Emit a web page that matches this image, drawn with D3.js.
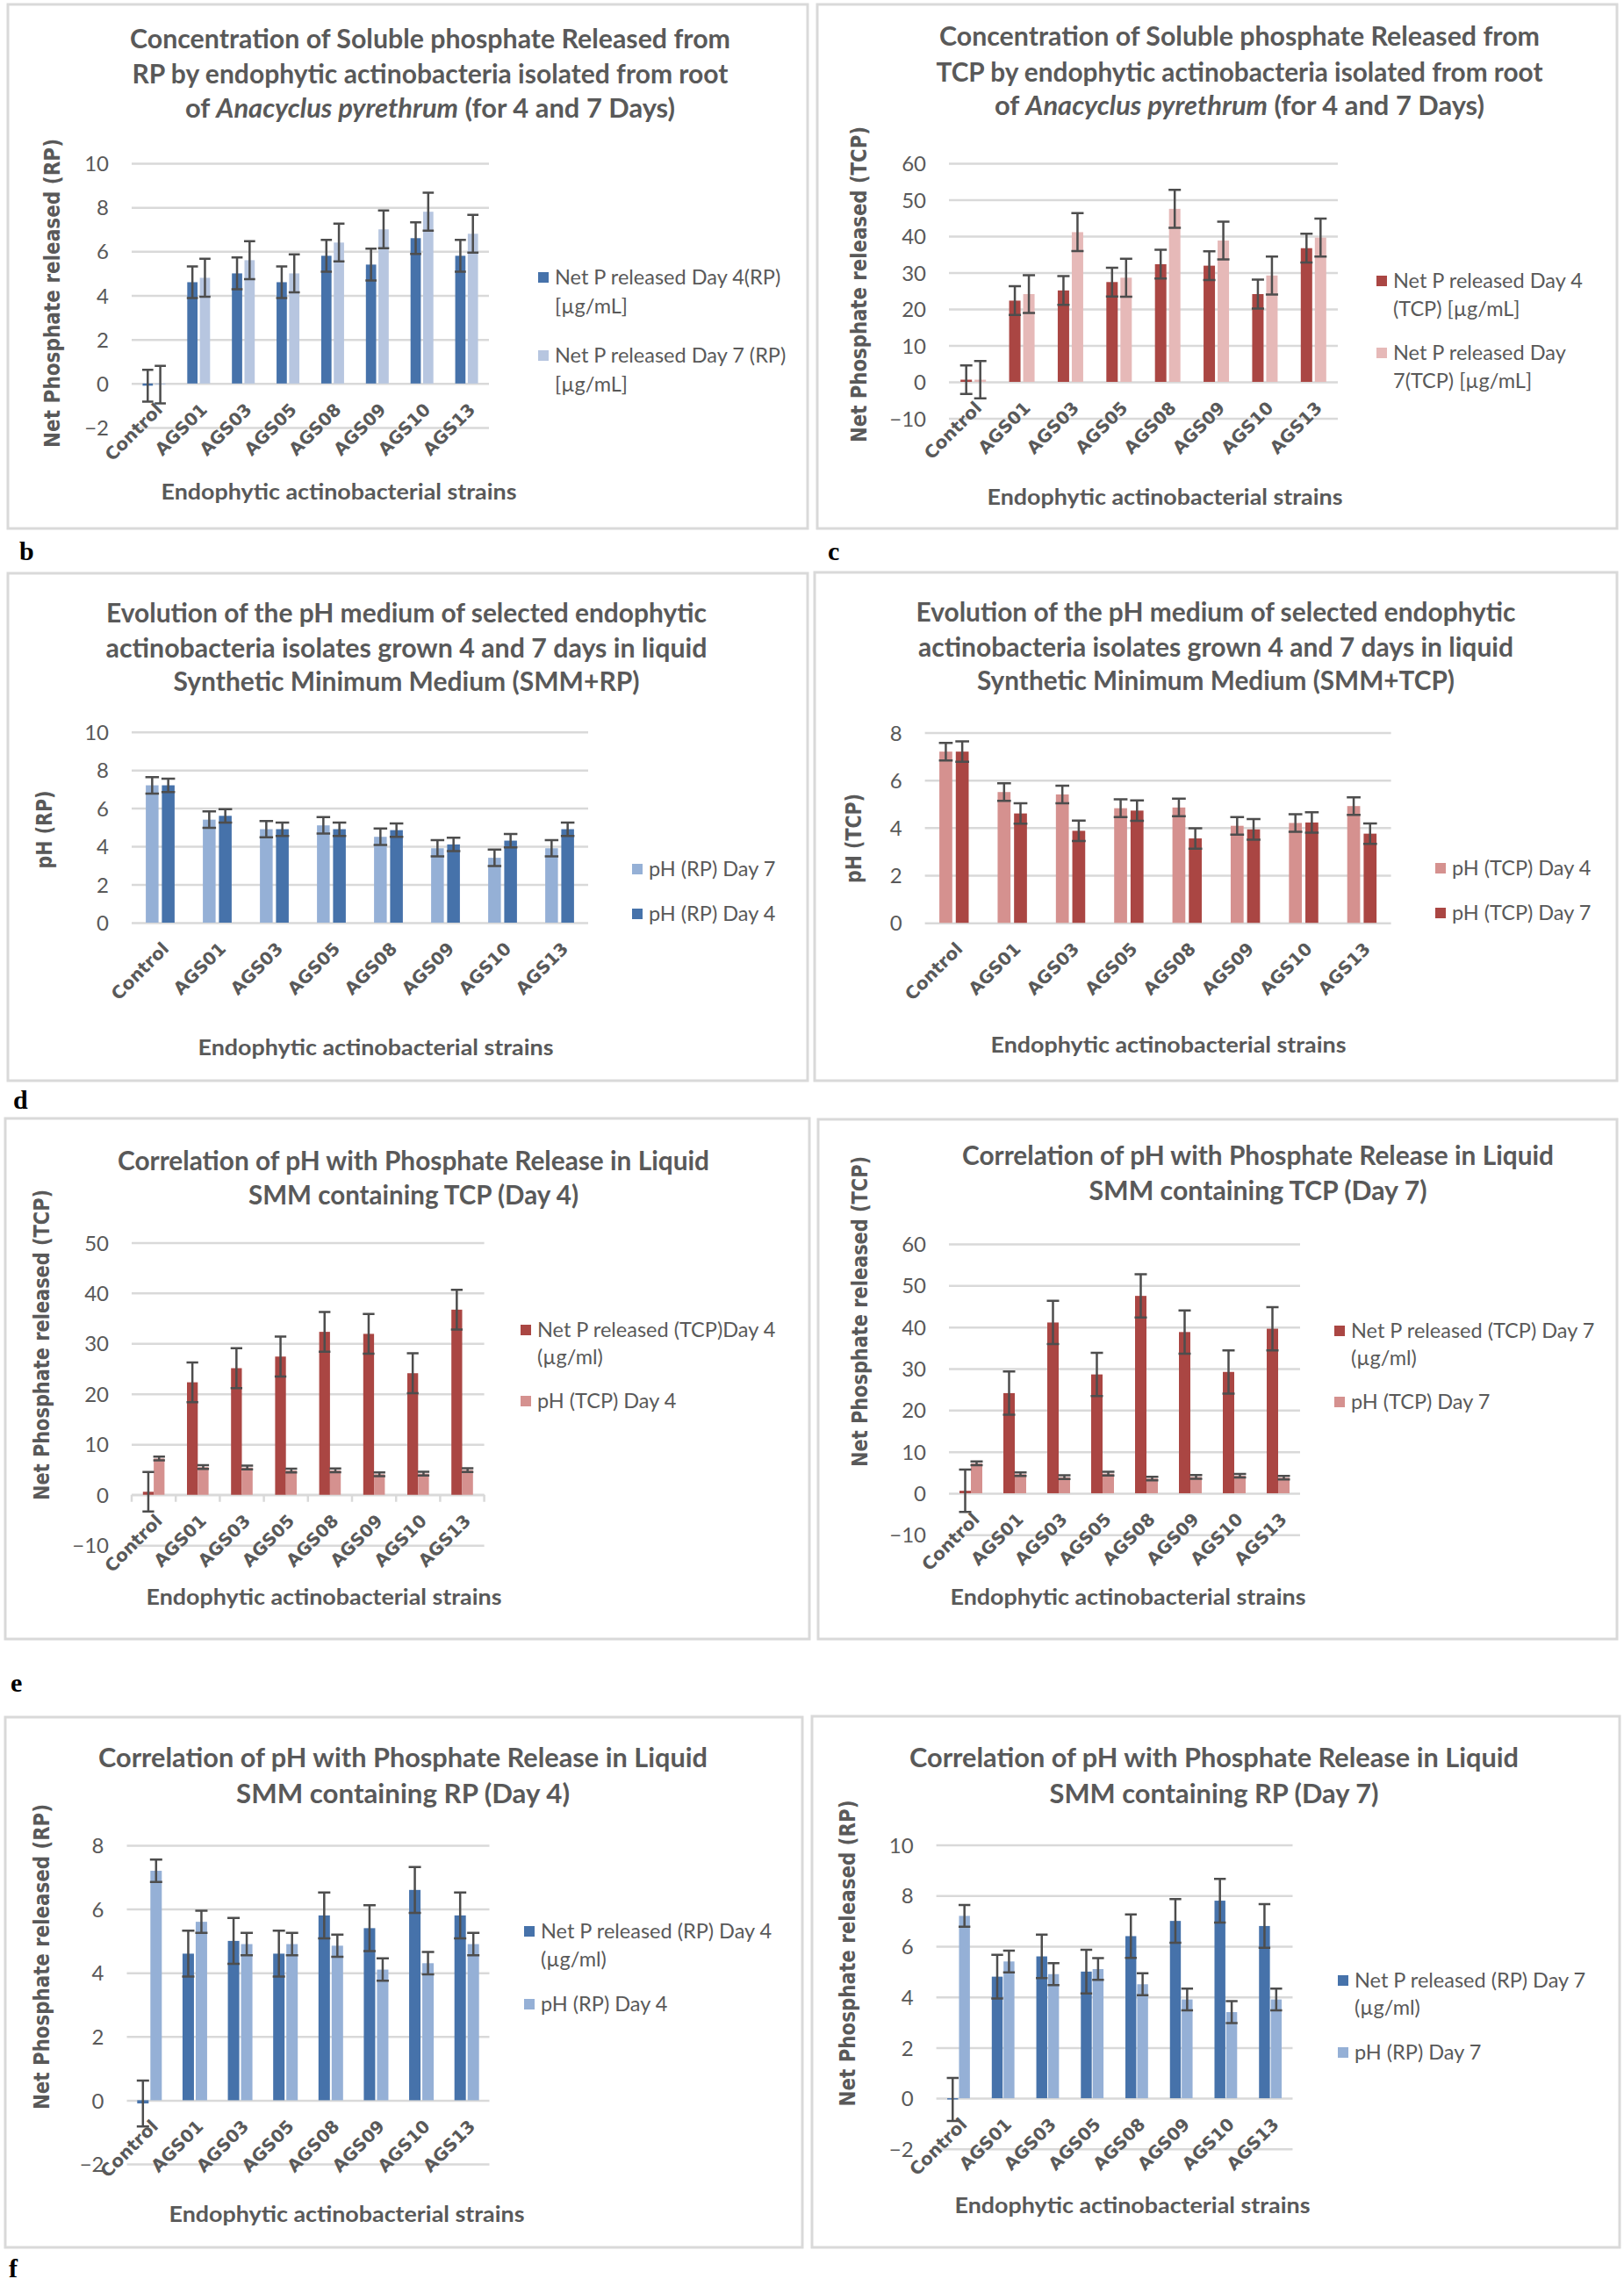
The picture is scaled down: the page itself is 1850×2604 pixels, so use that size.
<!DOCTYPE html>
<html>
<head>
<meta charset="utf-8">
<script src="https://cdn.jsdelivr.net/npm/d3@7"></script>
<style>
  body { margin: 0; background: #fff; }
  svg { display: block; }
</style>
</head>
<body>
<svg id="fig" width="1850" height="2604"></svg>
<script>
// strains on the category axis
const strains = ["Control", "AGS01", "AGS03", "AGS05", "AGS08", "AGS09", "AGS10", "AGS13"];

// net phosphate released (µg/mL)
const rpDay4 = [-0.1, 4.6, 5.0, 4.6, 5.8, 5.4, 6.6, 5.8];
const rpDay4Err = [0.72, 0.72, 0.72, 0.72, 0.72, 0.72, 0.72, 0.72];
const rpDay7 = [-0.05, 4.8, 5.6, 5.0, 6.4, 7.0, 7.8, 6.8];
const rpDay7Err = [0.85, 0.86, 0.86, 0.86, 0.86, 0.86, 0.86, 0.86];
const tcpDay4 = [0.6, 22.3, 25.1, 27.4, 32.3, 31.9, 24.1, 36.7];
const tcpDay4Err = [3.9, 3.95, 3.95, 3.95, 3.95, 3.95, 3.95, 3.95];
const tcpDay7 = [0.6, 24.1, 41.1, 28.6, 47.5, 38.8, 29.2, 39.6];
const tcpDay7Err = [5.1, 5.2, 5.2, 5.2, 5.2, 5.2, 5.2, 5.2];

// pH of the medium
const phRpDay4 = [7.2, 5.6, 4.9, 4.9, 4.85, 4.1, 4.3, 4.9];
const phRpDay4Err = [0.35, 0.35, 0.35, 0.35, 0.35, 0.35, 0.35, 0.35];
const phRpDay7 = [7.2, 5.4, 4.9, 5.1, 4.5, 3.9, 3.4, 3.9];
const phRpDay7Err = [0.43, 0.43, 0.43, 0.43, 0.43, 0.43, 0.43, 0.43];
const phTcpDay4 = [7.2, 5.5, 5.4, 4.82, 4.85, 4.08, 4.2, 4.91];
const phTcpDay4Err = [0.37, 0.37, 0.37, 0.37, 0.37, 0.37, 0.37, 0.37];
const phTcpDay7 = [7.2, 4.6, 3.87, 4.72, 3.55, 3.93, 4.22, 3.75];
const phTcpDay7Err = [0.43, 0.43, 0.43, 0.43, 0.43, 0.43, 0.43, 0.43];

// y tick values per panel
const ticksRp = [-2, 0, 2, 4, 6, 8, 10];
const ticksTcp = [-10, 0, 10, 20, 30, 40, 50, 60];
const ticksPhRp = [0, 2, 4, 6, 8, 10];
const ticksPhTcp = [0, 2, 4, 6, 8];
const ticksTcp4 = [-10, 0, 10, 20, 30, 40, 50];
const ticksRp4 = [-2, 0, 2, 4, 6, 8];

const xTitle = "Endophytic actinobacterial strains";

const C = {
  blue: "#4672aa", blueLight: "#b7c6e0", blueMid: "#95b0d6",
  red: "#aa4643", pinkLight: "#e6b9b8", pinkMid: "#d5918f",
  text: "#595959", grid: "#d9d9d9", err: "#4d4d4d"
};

const panels = [
  {
    frame: [9, 5, 911, 597],
    title: [
      ["Concentration of Soluble phosphate Released  from"],
      ["RP by endophytic actinobacteria isolated from root"],
      ["of ", ["Anacyclus pyrethrum"], " (for 4 and 7 Days)"]
    ],
    titleX: 490, titleY: [54, 94, 133], titleW: [684, 679, 558],
    yTitle: "Net Phosphate  released  (RP)", yTitleX: 68, yTitleY: 334, yTitleW: 352,
    x0: 150, x1: 557, domain: [-2, 10], yPx: [487, 186], ticks: ticksRp,
    barW: 11.7, gap: 2.6,
    series: [
      { values: rpDay4, err: rpDay4Err, color: C.blue, label: ["Net P released Day 4(RP)", "[µg/mL]"] },
      { values: rpDay7, err: rpDay7Err, color: C.blueLight, label: ["Net P released Day 7 (RP)", "[µg/mL]"] }
    ],
    legX: 613, legY: [[316, 349], [405, 438]],
    xTitleX: 386, xTitleY: 569
  },
  {
    frame: [931, 5, 911, 597],
    title: [
      ["Concentration of Soluble phosphate Released  from"],
      ["TCP by endophytic actinobacteria isolated from root"],
      ["of ", ["Anacyclus pyrethrum"], " (for 4 and 7 Days)"]
    ],
    titleX: 1412, titleY: [51, 92, 130], titleW: [684, 691, 558],
    yTitle: "Net Phosphate  released (TCP)", yTitleX: 987, yTitleY: 324, yTitleW: 360,
    x0: 1081, x1: 1524, domain: [-10, 60], yPx: [476.5, 186], ticks: ticksTcp,
    barW: 13, gap: 3,
    series: [
      { values: tcpDay4, err: tcpDay4Err, color: C.red, label: ["Net P released Day 4", "(TCP) [µg/mL]"] },
      { values: tcpDay7, err: tcpDay7Err, color: C.pinkLight, label: ["Net P released Day", "7(TCP) [µg/mL]"] }
    ],
    legX: 1568, legY: [[320, 352], [402, 434]],
    xTitleX: 1327, xTitleY: 575
  },
  {
    frame: [9, 653, 911, 578],
    title: [
      ["Evolution of the pH medium of selected endophytic"],
      ["actinobacteria isolates grown 4  and 7 days in liquid"],
      ["Synthetic Minimum Medium (SMM+RP)"]
    ],
    titleX: 463, titleY: [708, 748, 786], titleW: [684, 685, 531],
    yTitle: "pH (RP)", yTitleX: 59, yTitleY: 945, yTitleW: 89,
    x0: 150, x1: 670, domain: [0, 10], yPx: [1051, 833.7], ticks: ticksPhRp,
    barW: 14.5, gap: 3.8,
    series: [
      { values: phRpDay7, err: phRpDay7Err, color: C.blueMid, label: ["pH  (RP) Day 7"] },
      { values: phRpDay4, err: phRpDay4Err, color: C.blue, label: ["pH (RP) Day 4"] }
    ],
    legX: 720, legY: [[990], [1041]],
    xTitleX: 428, xTitleY: 1202
  },
  {
    frame: [928, 652, 914, 579],
    title: [
      ["Evolution of the pH medium of selected endophytic"],
      ["actinobacteria isolates grown 4 and 7 days in liquid"],
      ["Synthetic Minimum Medium (SMM+TCP)"]
    ],
    titleX: 1385, titleY: [707, 747, 785], titleW: [683, 678, 544],
    yTitle: "pH (TCP)", yTitleX: 981, yTitleY: 955, yTitleW: 102,
    x0: 1053.6, x1: 1584.6, domain: [0, 8], yPx: [1051.2, 834.5], ticks: ticksPhTcp,
    barW: 14.7, gap: 4,
    series: [
      { values: phTcpDay4, err: phTcpDay4Err, color: C.pinkMid, label: ["pH (TCP) Day 4"] },
      { values: phTcpDay7, err: phTcpDay7Err, color: C.red, label: ["pH (TCP) Day 7"] }
    ],
    legX: 1635, legY: [[989], [1040]],
    xTitleX: 1331, xTitleY: 1199
  },
  {
    frame: [6, 1274, 916, 593],
    title: [
      ["Correlation of pH with Phosphate Release in Liquid"],
      ["SMM containing TCP (Day 4)"]
    ],
    titleX: 471, titleY: [1332, 1371], titleW: [674, 376],
    yTitle: "Net Phosphate released (TCP)", yTitleX: 56, yTitleY: 1532, yTitleW: 354,
    x0: 150, x1: 551.6, domain: [-10, 50], yPx: [1760.2, 1415.4], ticks: ticksTcp4,
    barW: 12.3, gap: 0, axisTicks: true,
    series: [
      { values: tcpDay4, err: tcpDay4Err, color: C.red, label: ["Net P released (TCP)Day 4", "(µg/ml)"] },
      { values: phTcpDay4, err: phTcpDay4Err, color: C.pinkMid, label: ["pH (TCP) Day 4"] }
    ],
    legX: 593, legY: [[1515, 1546], [1596]],
    xTitleX: 369, xTitleY: 1828
  },
  {
    frame: [932, 1275, 910, 592],
    title: [
      ["Correlation of pH with Phosphate Release in Liquid"],
      ["SMM containing  TCP (Day 7)"]
    ],
    titleX: 1433, titleY: [1326, 1366], titleW: [674, 385],
    yTitle: "Net Phosphate released (TCP)", yTitleX: 988, yTitleY: 1494, yTitleW: 354,
    x0: 1081, x1: 1481, domain: [-10, 60], yPx: [1748.3, 1417], ticks: ticksTcp,
    barW: 13, gap: 0,
    series: [
      { values: tcpDay7, err: tcpDay7Err, color: C.red, label: ["Net P released (TCP) Day 7", "(µg/ml)"] },
      { values: phTcpDay7, err: phTcpDay7Err, color: C.pinkMid, label: ["pH (TCP) Day 7"] }
    ],
    legX: 1520, legY: [[1516, 1547], [1597]],
    xTitleX: 1285, xTitleY: 1828
  },
  {
    frame: [6, 1956, 908, 604],
    title: [
      ["Correlation of pH with Phosphate Release in Liquid"],
      ["SMM containing  RP (Day 4)"]
    ],
    titleX: 459, titleY: [2012, 2053], titleW: [694, 380],
    yTitle: "Net Phosphate released (RP)", yTitleX: 56, yTitleY: 2229, yTitleW: 348,
    x0: 144.5, x1: 557.5, domain: [-2, 8], yPx: [2465, 2102], ticks: ticksRp4,
    barW: 13, gap: 2,
    series: [
      { values: rpDay4, err: rpDay4Err, color: C.blue, label: ["Net P released (RP) Day 4", "(µg/ml)"] },
      { values: phRpDay4, err: phRpDay4Err, color: C.blueMid, label: ["pH (RP) Day 4"] }
    ],
    legX: 597, legY: [[2200, 2232], [2283]],
    xTitleX: 395, xTitleY: 2531
  },
  {
    frame: [925, 1955, 920, 605],
    title: [
      ["Correlation of pH with Phosphate Release in Liquid"],
      ["SMM containing RP (Day 7)"]
    ],
    titleX: 1383, titleY: [2012, 2053], titleW: [694, 375],
    yTitle: "Net Phosphate released (RP)", yTitleX: 974, yTitleY: 2225, yTitleW: 349,
    x0: 1066.6, x1: 1472.5, domain: [-2, 10], yPx: [2447.8, 2101.6], ticks: ticksRp,
    barW: 12.4, gap: 1,
    series: [
      { values: rpDay7, err: rpDay7Err, color: C.blue, label: ["Net P released (RP) Day 7", "(µg/ml)"] },
      { values: phRpDay7, err: phRpDay7Err, color: C.blueMid, label: ["pH (RP) Day 7"] }
    ],
    legX: 1524, legY: [[2256, 2287], [2338]],
    xTitleX: 1290, xTitleY: 2521
  }
];

// figure letters
const letters = [
  { t: "b", x: 22, y: 638 }, { t: "c", x: 943, y: 638 },
  { t: "d", x: 15, y: 1263 }, { t: "e", x: 12, y: 1927 }, { t: "f", x: 10, y: 2594 }
];

const svg = d3.select("#fig");
const sans = "Lato, 'Open Sans', sans-serif";
const wide = "'DejaVu Sans', Verdana, sans-serif";

panels.forEach(drawPanel);

svg.selectAll("text.letter")
  .data(letters)
  .join("text")
  .attr("class", "letter")
  .attr("x", d => d.x)
  .attr("y", d => d.y)
  .attr("font-family", "'Liberation Serif', 'Times New Roman', serif")
  .attr("font-weight", "bold")
  .attr("font-size", 30)
  .attr("fill", "#000")
  .text(d => d.t);

function drawPanel(p) {
  const g = svg.append("g");

  g.append("rect")
    .attr("x", p.frame[0]).attr("y", p.frame[1])
    .attr("width", p.frame[2]).attr("height", p.frame[3])
    .attr("fill", "#fff")
    .attr("stroke", C.grid)
    .attr("stroke-width", 3);

  // title, one text per line, squeezed to the measured width
  p.title.forEach((parts, i) => {
    const t = g.append("text")
      .attr("x", p.titleX)
      .attr("y", p.titleY[i] + 1)
      .attr("text-anchor", "middle")
      .attr("font-family", sans)
      .attr("font-weight", "bold")
      .attr("font-size", 30)
      .attr("fill", C.text)
      .attr("textLength", p.titleW[i])
      .attr("lengthAdjust", "spacingAndGlyphs");
    parts.forEach(part => {
      if (Array.isArray(part)) {
        t.append("tspan").attr("font-style", "italic").text(part[0]);
      } else {
        t.append("tspan").text(part);
      }
    });
  });

  const x = d3.scaleBand()
    .domain(strains)
    .range([p.x0, p.x1]);

  const y = d3.scaleLinear()
    .domain(p.domain)
    .range(p.yPx);

  // gridlines + tick labels
  const yAxis = d3.axisLeft(y)
    .tickValues(p.ticks)
    .tickSize(-(p.x1 - p.x0))
    .tickPadding(26)
    .tickFormat(d3.format("d"));

  const yg = g.append("g")
    .attr("transform", `translate(${p.x0},0)`)
    .call(yAxis);
  yg.select(".domain").remove();
  yg.selectAll(".tick line")
    .attr("stroke", C.grid)
    .attr("stroke-width", 2.5);
  yg.selectAll(".tick text")
    .attr("font-family", sans)
    .attr("font-size", 24)
    .attr("fill", C.text)
    .attr("dy", "0.36em");

  const zeroY = y(0);

  if (p.axisTicks) {
    g.append("line")
      .attr("x1", p.x0).attr("x2", p.x1)
      .attr("y1", zeroY).attr("y2", zeroY)
      .attr("stroke", C.grid).attr("stroke-width", 2.5);
    g.selectAll("line.btick")
      .data(d3.range(strains.length + 1))
      .join("line")
      .attr("class", "btick")
      .attr("x1", i => p.x0 + i * x.step())
      .attr("x2", i => p.x0 + i * x.step())
      .attr("y1", zeroY)
      .attr("y2", zeroY + 8)
      .attr("stroke", C.grid)
      .attr("stroke-width", 2.5);
  }

  // bars
  p.series.forEach((s, si) => {
    const offset = si === 0 ? -p.gap / 2 - p.barW : p.gap / 2;
    const rows = strains.map((name, i) => ({ name, v: s.values[i], e: s.err[i] }));
    const cx = d => x(d.name) + x.bandwidth() / 2 + offset;

    g.append("g")
      .selectAll("rect")
      .data(rows)
      .join("rect")
      .attr("x", cx)
      .attr("y", d => Math.min(y(d.v), zeroY))
      .attr("width", p.barW)
      .attr("height", d => Math.abs(y(d.v) - zeroY))
      .attr("fill", s.color);

    s.rows = rows;
    s.cx = d => cx(d) + p.barW / 2;
  });

  // error bars on top of all bars
  p.series.forEach(s => {
    const eg = g.append("g")
      .attr("stroke", C.err)
      .attr("stroke-width", 2.5)
      .attr("fill", "none");
    const half = p.barW / 2 + 0.5;
    eg.selectAll("path")
      .data(s.rows)
      .join("path")
      .attr("d", d => {
        const c = s.cx(d), t = y(d.v + d.e), b = y(d.v - d.e);
        return `M${c - half},${t}H${c + half}M${c},${t}V${b}M${c - half},${b}H${c + half}`;
      });
  });

  // category labels, rotated
  const xAxis = d3.axisBottom(x).tickSize(0);
  const xg = g.append("g")
    .attr("transform", `translate(0,${zeroY})`)
    .call(xAxis);
  xg.select(".domain").remove();
  xg.selectAll(".tick text")
    .attr("x", 0).attr("y", 0).attr("dy", 0)
    .attr("transform", "translate(11,31) rotate(-45)")
    .attr("text-anchor", "end")
    .attr("font-family", wide)
    .attr("font-weight", "bold")
    .attr("font-size", 20)
    .attr("fill", C.text);

  // axis titles
  g.append("text")
    .attr("transform", `translate(${p.yTitleX},${p.yTitleY}) rotate(-90)`)
    .attr("text-anchor", "middle")
    .attr("font-family", wide)
    .attr("font-weight", "bold")
    .attr("font-size", 25)
    .attr("fill", C.text)
    .attr("textLength", p.yTitleW)
    .attr("lengthAdjust", "spacingAndGlyphs")
    .text(p.yTitle);

  g.append("text")
    .attr("x", p.xTitleX)
    .attr("y", p.xTitleY)
    .attr("text-anchor", "middle")
    .attr("font-family", sans)
    .attr("font-weight", "bold")
    .attr("font-size", 25)
    .attr("fill", C.text)
    .attr("textLength", 405)
    .attr("lengthAdjust", "spacingAndGlyphs")
    .text(xTitle);

  // legend
  p.series.forEach((s, si) => {
    const ly = p.legY[si];
    g.append("rect")
      .attr("x", p.legX)
      .attr("y", ly[0] - 6)
      .attr("width", 12)
      .attr("height", 12)
      .attr("fill", s.color);
    s.label.forEach((line, li) => {
      g.append("text")
        .attr("x", p.legX + 19)
        .attr("y", ly[li] + 8)
        .attr("font-family", sans)
        .attr("font-size", 23.5)
        .attr("fill", C.text)
        .text(line);
    });
  });
}
</script>
</body>
</html>
